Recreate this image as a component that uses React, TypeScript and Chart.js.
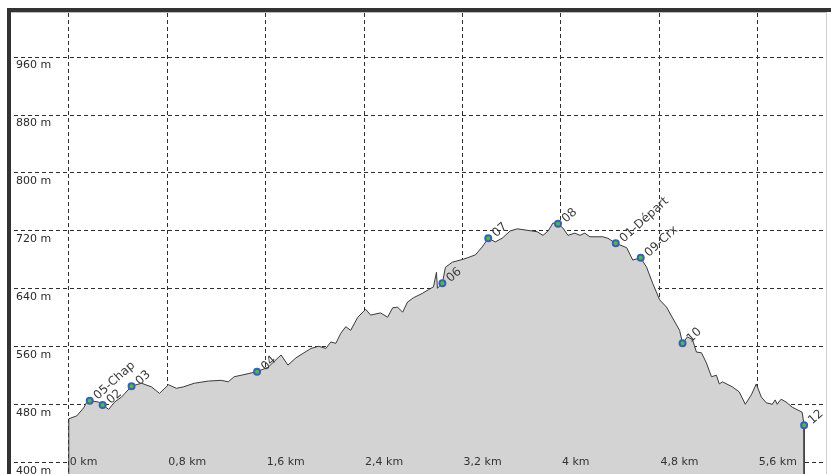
import React, { useEffect, useRef } from 'react';
import { Chart, registerables } from 'chart.js';

Chart.register(...registerables);

// Elevation profile (distance in km, elevation in m)
const distKm = [
  0, 0.065, 0.121, 0.146, 0.170, 0.243, 0.275, 0.324, 0.372, 0.429,
  0.510, 0.591, 0.672, 0.737, 0.810, 0.874, 0.931, 1.020, 1.134, 1.239,
  1.296, 1.344, 1.401, 1.530, 1.619, 1.725, 1.781, 1.846, 1.911, 1.968,
  2.032, 2.089, 2.130, 2.170, 2.211, 2.251, 2.291, 2.348, 2.413, 2.453,
  2.534, 2.591, 2.632, 2.672, 2.713, 2.753, 2.802, 2.874, 2.923, 2.964,
  2.988, 2.996, 3.036, 3.061, 3.117, 3.206, 3.304, 3.360, 3.409, 3.466,
  3.522, 3.587, 3.644, 3.725, 3.806, 3.854, 3.895, 3.935, 3.976, 4.016,
  4.057, 4.113, 4.154, 4.194, 4.235, 4.340, 4.381, 4.445, 4.534, 4.583,
  4.648, 4.696, 4.745, 4.802, 4.858, 4.907, 4.964, 4.988, 5.028, 5.069,
  5.101, 5.142, 5.182, 5.223, 5.263, 5.287, 5.312, 5.393, 5.449, 5.498,
  5.547, 5.587, 5.628, 5.668, 5.717, 5.741, 5.757, 5.789, 5.830, 5.879,
  5.960, 5.976,
];
const elevM = [
  461, 465, 476, 484, 486, 484, 480, 474, 484, 491,
  506, 510, 505, 496, 508, 503, 505, 510, 513, 514,
  512, 519, 521, 526, 532, 549, 535, 545, 552, 558,
  561, 558, 567, 565, 579, 588, 583, 601, 612, 604,
  607, 601, 614, 615, 608, 622, 628, 634, 639, 643,
  663, 641, 648, 670, 677, 681, 687, 698, 710, 705,
  710, 720, 723, 721, 719, 714, 720, 731, 730, 724,
  714, 717, 714, 717, 712, 712, 710, 703, 697, 680,
  683, 670, 648, 625, 615, 600, 583, 565, 574, 570,
  553, 552, 538, 519, 521, 509, 512, 505, 498, 481,
  494, 509, 491, 483, 481, 487, 481, 488, 484, 477,
  470, 452,
];

// Waypoints
const markerNames = ['05-Chap', '02', '03', '04', '06', '07', '08', '01-Départ', '09-Crx', '10', '12'];
const markerKm = [0.170, 0.275, 0.510, 1.530, 3.036, 3.409, 3.976, 4.445, 4.648, 4.988, 5.976];
const markerElev = [486, 480, 506, 526, 648, 710, 730, 703, 683, 565, 452];

// Axes
const yTickValues = [400, 480, 560, 640, 720, 800, 880, 960];
const xTickValues = [0, 0.8, 1.6, 2.4, 3.2, 4, 4.8, 5.6];
const xTickLabels = ['0 km', '0,8 km', '1,6 km', '2,4 km', '3,2 km', '4 km', '4,8 km', '5,6 km'];

const X_MIN = -0.4453;
const X_MAX = 6.1457;
const Y_MIN = 384.8;
const Y_MAX = 1020.7;

const FONT = '"DejaVu Sans", Verdana, sans-serif';

export default function App() {
  const ref = useRef<HTMLCanvasElement>(null);

  useEffect(() => {
    const canvas = ref.current;
    if (!canvas) return;
    const first = distKm[0];
    const last = distKm[distKm.length - 1];
    const profileData = [
      { x: first, y: Y_MIN },
      ...distKm.map((d, i) => ({ x: d, y: elevM[i] })),
      { x: last, y: Y_MIN },
    ];
    const markerData = markerKm.map((d, i) => ({ x: d, y: markerElev[i] }));

    const overlay = {
      id: 'overlay',
      afterDraw(chart: any) {
        const ctx = chart.ctx;
        const xs = chart.scales.x;
        const ys = chart.scales.y;
        ctx.save();
        ctx.font = `11px ${FONT}`;
        ctx.fillStyle = '#333';
        ctx.textBaseline = 'middle';
        ctx.textAlign = 'left';
        const ly = ys.getPixelForValue(yTickValues[0]) - 1;
        xTickValues.forEach((v, i) => {
          ctx.fillText(xTickLabels[i], xs.getPixelForValue(v) + 1, ly);
        });
        ctx.font = `12px ${FONT}`;
        ctx.fillStyle = '#3a3a3a';
        markerNames.forEach((n, i) => {
          const px = xs.getPixelForValue(markerKm[i]);
          const py = ys.getPixelForValue(markerElev[i]);
          ctx.save();
          ctx.translate(px + 6, py - 3);
          ctx.rotate((-42 * Math.PI) / 180);
          ctx.fillText(n, 0, 0);
          ctx.restore();
        });
        ctx.restore();
      },
    };

    const chart = new Chart(canvas, {
      type: 'line',
      data: {
        datasets: [
          {
            data: markerData,
            showLine: false,
            pointRadius: 3,
            pointBorderWidth: 2,
            pointBackgroundColor: '#44c044',
            pointBorderColor: '#3c5fb4',
            order: 0,
          },
          {
            data: profileData,
            borderColor: '#3a3a3a',
            borderWidth: 1,
            backgroundColor: '#d3d3d3',
            fill: 'start',
            pointRadius: 0,
            tension: 0,
            order: 1,
          },
        ],
      },
      options: {
        animation: false,
        responsive: false,
        maintainAspectRatio: false,
        layout: { padding: { left: 10, top: 13, right: 5, bottom: 26 } },
        plugins: { legend: { display: false }, tooltip: { enabled: false } },
        scales: {
          x: {
            type: 'linear',
            min: X_MIN,
            max: X_MAX,
            z: 1,
            afterBuildTicks: (scale: any) => {
              scale.ticks = xTickValues.map((v) => ({ value: v }));
            },
            ticks: { display: false },
            border: { display: false, dash: [4, 3] },
            grid: { color: '#2e2e2e', lineWidth: 1, drawTicks: false },
          },
          y: {
            type: 'linear',
            min: Y_MIN,
            max: Y_MAX,
            z: 1,
            afterBuildTicks: (scale: any) => {
              scale.ticks = yTickValues.map((v) => ({ value: v }));
            },
            ticks: {
              mirror: true,
              padding: 2,
              labelOffset: 8,
              color: '#2a2a2a',
              font: { family: FONT, size: 11 },
              callback: (v: any) => `${v} m`,
            },
            border: { display: false, dash: [4, 3] },
            grid: { color: '#2e2e2e', lineWidth: 1, drawTicks: false },
          },
        },
      },
      plugins: [overlay],
    } as any);
    return () => chart.destroy();
  }, []);

  return (
    <div style={{ position: 'absolute', left: 0, top: 0, width: 831, height: 474, overflow: 'hidden', background: '#fff' }}>
      <canvas ref={ref} width={831} height={500} style={{ position: 'absolute', left: 0, top: 0, width: 831, height: 500 }} />
      <div style={{ position: 'absolute', left: 7, top: 8, width: 824, height: 4, background: '#333' }} />
      <div style={{ position: 'absolute', left: 7, top: 8, width: 4, height: 466, background: '#333' }} />
      <div style={{ position: 'absolute', left: 11, top: 12, width: 815, height: 1, background: '#bdbdbd' }} />
      <div style={{ position: 'absolute', left: 826, top: 12, width: 1, height: 462, background: '#cfcfcf' }} />
    </div>
  );
}
